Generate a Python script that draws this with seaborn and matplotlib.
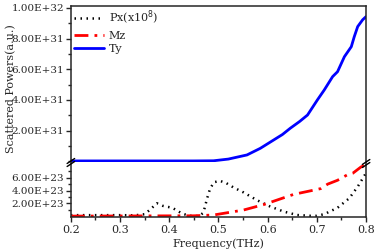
import numpy as np
import pandas as pd
import seaborn as sns
import matplotlib
matplotlib.use("Agg")
import matplotlib.pyplot as plt
from matplotlib.ticker import FuncFormatter, MultipleLocator, FixedLocator

# Ty (upper panel), values in units of 1e31
ty_freq = [0.2, 0.3, 0.4, 0.45, 0.49, 0.52, 0.558, 0.585, 0.612, 0.63, 0.646,
           0.665, 0.681, 0.701, 0.715, 0.732, 0.742, 0.756, 0.77, 0.776, 0.783,
           0.793, 0.8]
ty_vals = [0.03, 0.03, 0.03, 0.03, 0.04, 0.15, 0.42, 0.85, 1.39, 1.75, 2.16,
           2.6, 3.02, 4.0, 4.65, 5.52, 5.84, 6.82, 7.47, 8.12, 8.78, 9.22, 9.43]

# Px (x1e8) and Mz (lower panel), values in units of 1e23
px_freq = [0.2, 0.25, 0.3, 0.33, 0.35, 0.36, 0.375, 0.387, 0.406, 0.414, 0.425,
           0.44, 0.46, 0.468, 0.472, 0.477, 0.483, 0.491, 0.503, 0.515, 0.53,
           0.551, 0.578, 0.605, 0.633, 0.66, 0.687, 0.7, 0.715, 0.742, 0.766,
           0.783, 0.798, 0.8]
px_vals = [0.15, 0.15, 0.15, 0.12, 0.3, 0.95, 2.0, 1.6, 1.3, 0.95, 0.44,
           0.05, 0.0, 0.44, 1.3, 2.8, 4.3, 5.3, 5.5, 5.2, 4.5,
           3.7, 2.5, 1.5, 0.7, 0.17, 0.05, 0.05, 0.3, 1.3, 2.8,
           4.6, 6.5, 6.8]

mz_freq = [0.2, 0.45, 0.49, 0.551, 0.592, 0.653, 0.69, 0.708, 0.722, 0.742,
           0.763, 0.773, 0.79, 0.8]
mz_vals = [0.0, 0.05, 0.17, 0.95, 1.8, 3.4, 4.0, 4.3, 5.0, 5.6,
           6.5, 6.7, 7.7, 8.0]

x_ticks = [0.2, 0.3, 0.4, 0.5, 0.6, 0.7, 0.8]
top_ticks = [2e31, 4e31, 6e31, 8e31, 1e32]
bot_ticks = [2e23, 4e23, 6e23]

sns.set_style("ticks")
plt.rcParams["font.family"] = ["DejaVu Serif"]
plt.rcParams["font.size"] = 7.5

ty = pd.DataFrame({"f": ty_freq, "v": np.array(ty_vals) * 1e31})
px = pd.DataFrame({"f": px_freq, "v": np.array(px_vals) * 1e23})
mz = pd.DataFrame({"f": mz_freq, "v": np.array(mz_vals) * 1e23})

fig = plt.figure(figsize=(3.77, 2.5), dpi=100)
ax_top = fig.add_axes([0.188, 0.352, 0.783, 0.624])
ax_bot = fig.add_axes([0.188, 0.132, 0.783, 0.216])

sns.lineplot(data=px, x="f", y="v", ax=ax_bot, color="black", lw=1.8,
             linestyle=(0, (0.6, 1.8)), label="Px(x10$^8$)", legend=False)
sns.lineplot(data=mz, x="f", y="v", ax=ax_bot, color="red", lw=2,
             linestyle=(0, (5, 2.2, 1, 2.2)), label="Mz", legend=False)
sns.lineplot(data=ty, x="f", y="v", ax=ax_top, color="blue", lw=2,
             label="Ty", legend=False)

fmt = FuncFormatter(lambda v, p: f"{v:.2E}")

for ax in (ax_top, ax_bot):
    ax.set_xlim(0.2, 0.8)
    ax.set_xlabel("")
    ax.set_ylabel("")
    for s in ax.spines.values():
        s.set_linewidth(1.1)
    ax.tick_params(which="major", direction="out", length=3.5, width=1,
                   labelsize=7.5, pad=1.5)
    ax.tick_params(which="minor", direction="out", length=2, width=1)

ax_top.set_ylim(-0.04e31, 10.12e31)
ax_top.yaxis.set_major_locator(FixedLocator(top_ticks))
ax_top.yaxis.set_minor_locator(MultipleLocator(1e31))
ax_top.yaxis.set_major_formatter(fmt)
ax_top.spines["bottom"].set_visible(False)
ax_top.tick_params(axis="x", which="both", bottom=False, labelbottom=False)

ax_bot.set_ylim(-0.14e23, 8.3e23)
ax_bot.yaxis.set_major_locator(FixedLocator(bot_ticks))
ax_bot.yaxis.set_minor_locator(FixedLocator([1e23, 3e23, 5e23, 7e23]))
ax_bot.yaxis.set_major_formatter(fmt)
ax_bot.spines["top"].set_visible(False)
ax_bot.xaxis.set_major_locator(FixedLocator(x_ticks))
ax_bot.xaxis.set_minor_locator(MultipleLocator(0.05))
ax_bot.xaxis.set_major_formatter(FuncFormatter(lambda v, p: f"{v:.1f}"))
ax_bot.tick_params(axis="x", labelsize=8, pad=2)

# break marks
for xa, dy in ((0.0, 0.0), (1.0, 0.004)):
    for off in (-0.006, 0.006):
        fig.add_artist(plt.Line2D(
            [0.188 + 0.783 * xa - 0.01, 0.188 + 0.783 * xa + 0.01],
            [0.350 + off - dy - 0.01, 0.350 + off - dy + 0.01],
            transform=fig.transFigure, color="black", lw=1, clip_on=False))

handles = ax_bot.get_lines()[:2] + ax_top.get_lines()[:1]
ax_top.legend(handles, ["Px(x10$^8$)", "Mz", "Ty"], loc="upper left",
              bbox_to_anchor=(0.0, 1.0), frameon=False, fontsize=8,
              handlelength=2.7, handletextpad=0.4, labelspacing=0.3,
              borderaxespad=0.1, borderpad=0.2)

fig.text(0.03, 0.644, "Scattered Powers(a.u.)", rotation=90,
         ha="center", va="center", fontsize=8)
fig.text(0.578, 0.004, "Frequency(THz)", ha="center", va="bottom", fontsize=8)

fig.savefig("out.png", dpi=100)
